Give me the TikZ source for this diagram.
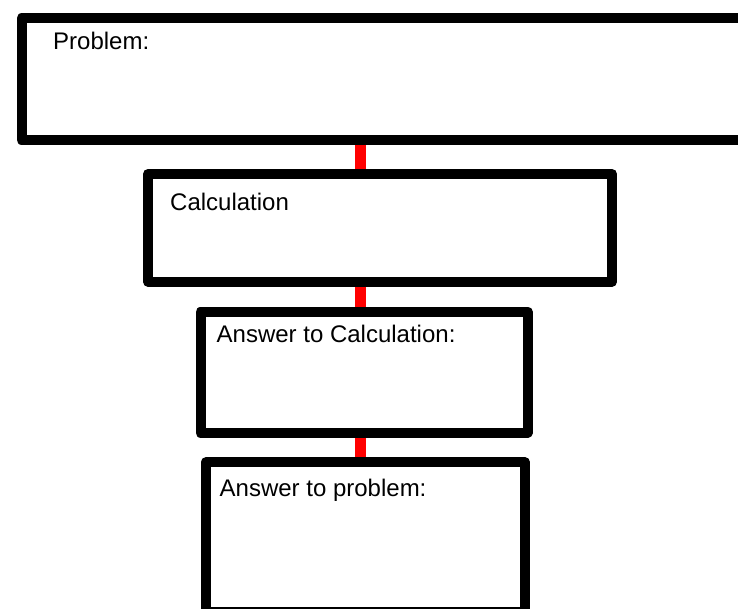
\documentclass[tikz,border=0pt]{standalone}
\usepackage{fontspec}
\setmainfont{Liberation Sans}
\begin{document}
\begin{tikzpicture}[x=1pt, y=-1pt,
    box/.style={draw, line width=10pt, line join=round, inner sep=0pt, outer sep=0pt},
    lbl/.style={anchor=base west, inner sep=0pt, font=\fontsize{24}{28}\selectfont},
    link/.style={draw=red, line width=11pt, shorten <=5pt, shorten >=5pt}]
  \useasboundingbox (0,0) rectangle (738,609);
  \clip (0,0) rectangle (738,609);

  % Draw the boxes
  \node[box, minimum width=733.5pt, minimum height=121.5pt] (problem) at (388.25, 79.25) {};
  \node[box, minimum width=464pt, minimum height=107.7pt] (calc) at (380, 227.85) {};
  \node[box, minimum width=327.2pt, minimum height=121pt] (calcans) at (364.1, 372.2) {};
  \node[box, minimum width=319.3pt, minimum height=149.7pt] (probans) at (365.35, 537.15) {};

  % Draw the texts in the boxes
  \node[lbl] (problemtxt) at (53, 49.5) {Problem:};
  \node[lbl] (calctxt) at (170, 211) {Calculation};
  \node[lbl] (calcanstxt) at (216.5, 342.7) {Answer to Calculation:};
  \node[lbl] (probanstxt) at (219.5, 496.5) {Answer to problem:};

  % Draw the red links between the boxes
  \coordinate (spine) at (360, 0);
  \draw[link] (spine |- problem.south) -- (spine |- calc.north);
  \draw[link] (spine |- calc.south) -- (spine |- calcans.north);
  \draw[link] (spine |- calcans.south) -- (spine |- probans.north);
\end{tikzpicture}
\end{document}
